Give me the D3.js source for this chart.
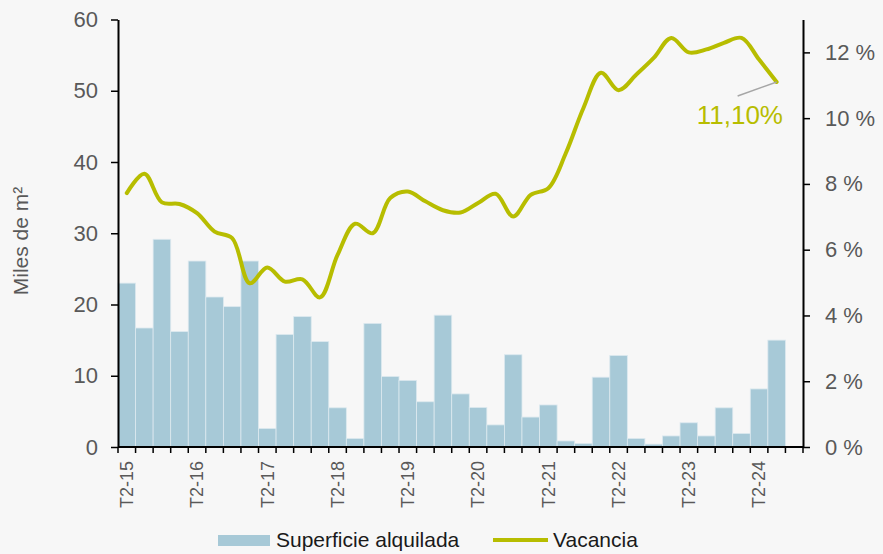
<!DOCTYPE html>
<html>
<head>
<meta charset="utf-8">
<script src="https://cdn.jsdelivr.net/npm/d3@7"></script>
<style>
  html, body { margin: 0; padding: 0; background: #f7f7f7; }
  svg { display: block; font-family: "Liberation Sans", Arial, sans-serif; }
</style>
</head>
<body>
<svg id="chart" width="883" height="554"></svg>
<script>
const categories = [
  "T2-15","T3-15","T4-15","T1-16","T2-16","T3-16","T4-16","T1-17","T2-17","T3-17","T4-17","T1-18","T2-18",
  "T3-18","T4-18","T1-19","T2-19","T3-19","T4-19","T1-20","T2-20","T3-20","T4-20","T1-21","T2-21","T3-21",
  "T4-21","T1-22","T2-22","T3-22","T4-22","T1-23","T2-23","T3-23","T4-23","T1-24","T2-24","T3-24","T4-24"
];
const labelEvery = 4;
const superficie = [23.0, 16.7, 29.15, 16.2, 26.1, 21.05, 19.7, 26.1, 2.6, 15.8, 18.3, 14.8, 5.5, 1.2,
  17.35, 9.9, 9.35, 6.35, 18.5, 7.45, 5.55, 3.1, 12.95, 4.2, 5.9, 0.85, 0.5, 9.8, 12.85, 1.2, 0.4,
  1.55, 3.4, 1.55, 5.5, 1.9, 8.15, 15.0];
const vacancia = [7.72, 8.31, 7.44, 7.39, 7.11, 6.55, 6.35, 4.98, 5.46, 5.03, 5.1, 4.55, 5.84, 6.79,
  6.5, 7.57, 7.77, 7.47, 7.2, 7.13, 7.42, 7.70, 7.01, 7.67, 7.87, 8.94, 10.31, 11.38, 10.85, 11.32,
  11.83, 12.44, 12.0, 12.09, 12.29, 12.44, 11.78, 11.10];
const leftTicks = [0, 10, 20, 30, 40, 50, 60];
const rightTicks = [0, 2, 4, 6, 8, 10, 12];
const lastLabel = "11,10%";
const yTitle = "Miles de m²";
const legendNames = ["Superficie alquilada", "Vacancia"];

const barColor = "#a7c9d7";
const lineColor = "#b7bd00";
const tickColor = "#595959";

const svg = d3.select("#chart");
const mLeft = 118, mRight = 803, mTop = 19.5, mBottom = 447;

const x = d3.scaleBand().domain(categories).range([mLeft, mRight]).padding(0);
const yL = d3.scaleLinear().domain([0, 60]).range([mBottom, mTop]);
const yR = d3.scaleLinear().domain([0, 13]).range([mBottom, mTop]);

// bars
svg.append("g").selectAll("rect").data(superficie).join("rect")
  .attr("x", (d, i) => x(categories[i]))
  .attr("y", d => yL(d))
  .attr("width", x.bandwidth())
  .attr("height", d => yL(0) - yL(d))
  .attr("fill", barColor)
  .attr("stroke", "#dce9ef")
  .attr("stroke-width", 0.8);

// line
const line = d3.line()
  .x((d, i) => x(categories[i]) + x.bandwidth() / 2)
  .y(d => yR(d))
  .curve(d3.curveCatmullRom.alpha(0.5));
svg.append("path").datum(vacancia)
  .attr("d", line)
  .attr("fill", "none")
  .attr("stroke", lineColor)
  .attr("stroke-width", 4)
  .attr("stroke-linecap", "round")
  .attr("stroke-linejoin", "round");

// left axis
const gL = svg.append("g").attr("transform", `translate(${mLeft},0)`)
  .call(d3.axisLeft(yL).tickValues(leftTicks).tickSize(7).tickPadding(13).tickSizeOuter(0));
gL.select(".domain").attr("stroke", "#000").attr("stroke-width", 2);
gL.selectAll(".tick line").attr("stroke", "#000").attr("stroke-width", 1.5);
gL.selectAll(".tick text").attr("fill", tickColor).style("font-size", "22px")
  .style("font-family", "Liberation Sans, Arial, sans-serif");

// right axis
const gR = svg.append("g").attr("transform", `translate(${mRight},0)`)
  .call(d3.axisRight(yR).tickValues(rightTicks).tickSize(7).tickPadding(15).tickSizeOuter(0)
    .tickFormat(d => d + " %"));
gR.select(".domain").attr("stroke", "#000").attr("stroke-width", 2);
gR.selectAll(".tick line").attr("stroke", "#000").attr("stroke-width", 1.5);
gR.selectAll(".tick text").attr("fill", tickColor).style("font-size", "22px")
  .style("font-family", "Liberation Sans, Arial, sans-serif");

// bottom axis
const gB = svg.append("g");
gB.append("line").attr("x1", mLeft).attr("x2", mRight).attr("y1", mBottom).attr("y2", mBottom)
  .attr("stroke", "#000").attr("stroke-width", 2);
const boundaries = categories.map(c => x(c)).concat([x.range()[1]]);
gB.selectAll("line.tk").data(boundaries).join("line").attr("class", "tk")
  .attr("x1", d => d).attr("x2", d => d).attr("y1", mBottom).attr("y2", mBottom + 6)
  .attr("stroke", "#000").attr("stroke-width", 1.5);
gB.selectAll("text").data(categories.filter((c, i) => i % labelEvery === 0)).join("text")
  .attr("transform", d => `translate(${x(d) + x.bandwidth() / 2},${mBottom + 14}) rotate(-90)`)
  .attr("text-anchor", "end")
  .attr("dy", "0.35em")
  .attr("fill", tickColor)
  .style("font-size", "18px")
  .text(d => d);

// y title
svg.append("text")
  .attr("transform", `translate(21,241) rotate(-90)`)
  .attr("text-anchor", "middle")
  .attr("dy", "0.35em")
  .attr("fill", tickColor)
  .style("font-size", "21px")
  .text(yTitle);

// last value annotation
const lastI = vacancia.length - 1;
const lx = x(categories[lastI]) + x.bandwidth() / 2, ly = yR(vacancia[lastI]);
svg.append("line").attr("x1", lx).attr("y1", ly).attr("x2", lx - 39).attr("y2", ly + 14)
  .attr("stroke", "#a6a6a6").attr("stroke-width", 1.5);
svg.append("text").attr("x", 783).attr("y", 124).attr("text-anchor", "end")
  .attr("fill", lineColor).style("font-size", "26px").text(lastLabel);

// legend
const lg = svg.append("g");
lg.append("rect").attr("x", 218).attr("y", 535).attr("width", 52).attr("height", 11).attr("fill", barColor);
lg.append("text").attr("x", 276).attr("y", 540).attr("dy", "0.35em").attr("fill", "#1a1a1a")
  .style("font-size", "21px").text(legendNames[0]);
lg.append("line").attr("x1", 493).attr("x2", 548).attr("y1", 540).attr("y2", 540)
  .attr("stroke", lineColor).attr("stroke-width", 4);
lg.append("text").attr("x", 553).attr("y", 540).attr("dy", "0.35em").attr("fill", "#1a1a1a")
  .style("font-size", "21px").text(legendNames[1]);
</script>
</body>
</html>
